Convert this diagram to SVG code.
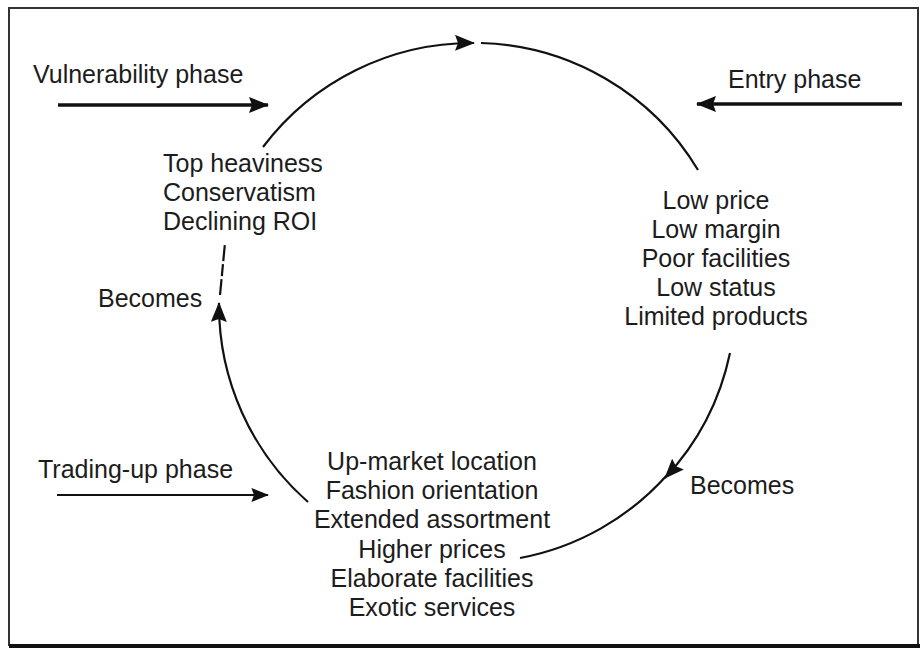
<svg xmlns="http://www.w3.org/2000/svg" width="920" height="654" viewBox="0 0 920 654">
  <style>
    .lbl { font-family: "Liberation Sans", Arial, sans-serif; font-size: 25px; fill: #1c1c1c; }
    .mid { text-anchor: middle; }
    .cyc { fill: none; stroke: #111; stroke-width: 2.2; }
    .phase { fill: none; stroke: #111; stroke-width: 3.5; }
    .phase-thin { fill: none; stroke: #111; stroke-width: 2; }
  </style>
  <defs>
    <!-- solid arrowhead, sized in user units so it does not scale with stroke width -->
    <marker id="ah" viewBox="0 0 20 16" refX="19" refY="8" markerWidth="20" markerHeight="16" orient="auto" markerUnits="userSpaceOnUse">
      <path d="M0,0 L20,8 L0,16 L3,8 z" fill="#111"/>
    </marker>
    <marker id="ahs" viewBox="0 0 20 16" refX="19" refY="8" markerWidth="18" markerHeight="14" orient="auto" markerUnits="userSpaceOnUse">
      <path d="M0,0 L20,8 L0,16 L3,8 z" fill="#111"/>
    </marker>
  </defs>

  <rect width="920" height="654" fill="#fff"/>
  <!-- frame -->
  <rect x="9" y="8" width="909" height="637" fill="none" stroke="#333" stroke-width="2"/>
  <line x1="9" y1="646" x2="920" y2="646" stroke="#111" stroke-width="4"/>

  <!-- cycle connectors and phase arrows -->
  <g id="connectors">
    <path class="cyc" d="M263,147 A262,262 0 0 1 474,43" marker-end="url(#ah)"/>
    <path class="cyc" d="M481,43 A262,262 0 0 1 698,170"/>
    <path class="cyc" d="M730,353 A262,262 0 0 1 665,478" marker-end="url(#ah)"/>
    <path class="cyc" d="M668,474 A262,262 0 0 1 520,558"/>
    <path class="cyc" d="M308,502 A262,262 0 0 1 219,303" marker-end="url(#ah)"/>
    <path class="cyc" d="M220,295 L225,243" stroke-dasharray="16,3,12,3"/>
    <path class="phase" d="M58,105 L268,105" marker-end="url(#ah)"/>
    <path class="phase" d="M902,104 L697,104" marker-end="url(#ah)"/>
    <path class="phase-thin" d="M57,495 L268,495" marker-end="url(#ahs)"/>
  </g>

  <g id="vulnerability-phase">
    <text class="lbl" x="33" y="83">Vulnerability phase</text>
  </g>
  <g id="entry-phase">
    <text class="lbl" x="728" y="88">Entry phase</text>
  </g>
  <g id="trading-up-phase">
    <text class="lbl" x="38" y="478">Trading-up phase</text>
  </g>

  <g id="vulnerability-traits">
    <text class="lbl" x="163" y="172">Top heaviness</text>
    <text class="lbl" x="163" y="201">Conservatism</text>
    <text class="lbl" x="163" y="230">Declining ROI</text>
  </g>

  <g id="entry-traits">
    <text class="lbl mid" x="716" y="209">Low price</text>
    <text class="lbl mid" x="716" y="238">Low margin</text>
    <text class="lbl mid" x="716" y="267">Poor facilities</text>
    <text class="lbl mid" x="716" y="296">Low status</text>
    <text class="lbl mid" x="716" y="325">Limited products</text>
  </g>

  <g id="trading-up-traits">
    <text class="lbl mid" x="432" y="470">Up-market location</text>
    <text class="lbl mid" x="432" y="499">Fashion orientation</text>
    <text class="lbl mid" x="432" y="528">Extended assortment</text>
    <text class="lbl mid" x="432" y="558">Higher prices</text>
    <text class="lbl mid" x="432" y="587">Elaborate facilities</text>
    <text class="lbl mid" x="432" y="616">Exotic services</text>
  </g>

  <g id="becomes-left">
    <text class="lbl" x="98" y="307">Becomes</text>
  </g>
  <g id="becomes-right">
    <text class="lbl" x="690" y="494">Becomes</text>
  </g>
</svg>
